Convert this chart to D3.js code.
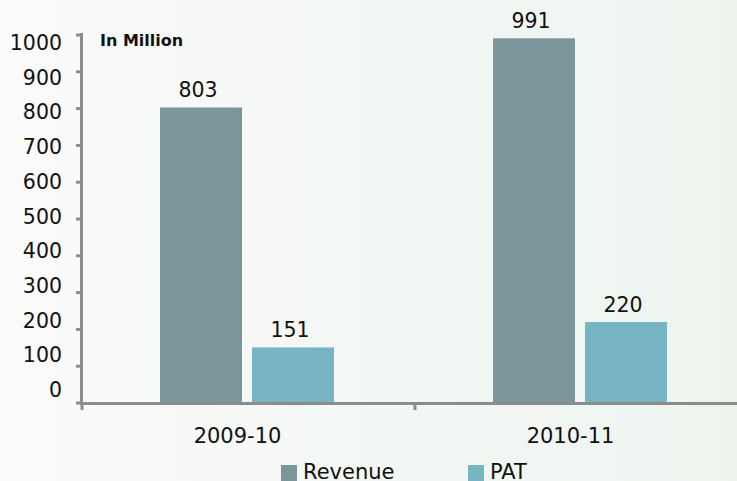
<!DOCTYPE html>
<html lang="en">
<head>
    <meta charset="UTF-8">
    <title>Revenue and PAT</title>
    <script src="https://cdn.jsdelivr.net/npm/d3@7/dist/d3.min.js"></script>
    <style>
        body {
            margin: 0;
        }

        svg {
            display: block;
            font-family: "DejaVu Sans", Verdana, sans-serif;
        }

        .axis-line {
            stroke: #8c8c8c;
            stroke-width: 3px;
        }
    </style>
</head>
<body>
<svg width="737" height="481"></svg>

<script>

    var years = ['2009-10', '2010-11'];
    var series = ['Revenue', 'PAT'];
    var revenue = [803, 991];
    var pat = [151, 220];
    var yTicks = [0, 100, 200, 300, 400, 500, 600, 700, 800, 900, 1000];
    var colors = ['#7b979c', '#77b4c4'];

    var values = [revenue, pat];

    var svg = d3.select('svg');

    // background gradient, white-ish on the left to pale green on the right
    var grad = svg.append('defs').append('linearGradient')
        .attr('id', 'bg')
        .attr('x1', '0%').attr('x2', '100%')
        .attr('y1', '0%').attr('y2', '0%');
    grad.append('stop').attr('offset', '0%').attr('stop-color', '#fafbfa');
    grad.append('stop').attr('offset', '100%').attr('stop-color', '#edf4ee');

    svg.append('rect')
        .attr('width', 737)
        .attr('height', 481)
        .attr('fill', 'url(#bg)');

    var y = d3.scaleLinear().domain([0, 1000]).range([403, 35]);
    // tick labels sit on a slightly tighter spacing than the tick marks
    var yLab = d3.scaleLinear().domain([0, 1000]).range([397, 50]);

    var x0 = d3.scaleBand().domain(years).range([81, 747]);
    var x1 = d3.scaleBand().domain(series).range([79, 253]).paddingInner(10 / 92);

    // y axis ticks and line
    svg.selectAll('.ytick')
        .data(yTicks)
        .enter()
        .append('line')
        .attr('class', 'axis-line')
        .attr('x1', 76)
        .attr('x2', 82)
        .attr('y1', function (d) { return y(d); })
        .attr('y2', function (d) { return y(d); });

    svg.selectAll('.ylabel')
        .data(yTicks)
        .enter()
        .append('text')
        .attr('x', 62)
        .attr('y', function (d) { return yLab(d); })
        .attr('text-anchor', 'end')
        .attr('font-size', 20.5)
        .attr('fill', '#111')
        .text(function (d) { return d; });

    // bars
    var groups = svg.selectAll('.group')
        .data(years)
        .enter()
        .append('g')
        .attr('transform', function (d) { return 'translate(' + x0(d) + ',0)'; });

    groups.selectAll('rect')
        .data(function (d, i) {
            return series.map(function (s, j) {
                return {series: s, value: values[j][i], color: colors[j]};
            });
        })
        .enter()
        .append('rect')
        .attr('x', function (d) { return x1(d.series); })
        .attr('width', x1.bandwidth())
        .attr('y', function (d) { return y(d.value); })
        .attr('height', function (d) { return y(0) - y(d.value); })
        .attr('fill', function (d) { return d.color; });

    groups.selectAll('.val')
        .data(function (d, i) {
            return series.map(function (s, j) {
                return {series: s, value: values[j][i]};
            });
        })
        .enter()
        .append('text')
        .attr('x', function (d) { return x1(d.series) + x1.bandwidth() / 2 - 3; })
        .attr('y', function (d) { return y(d.value) - 10; })
        .attr('text-anchor', 'middle')
        .attr('font-size', 20.5)
        .attr('fill', '#111')
        .text(function (d) { return d.value; });

    // axis lines
    svg.append('line')
        .attr('class', 'axis-line')
        .attr('x1', 81.5).attr('x2', 81.5)
        .attr('y1', 33).attr('y2', 405);

    svg.append('line')
        .attr('class', 'axis-line')
        .attr('x1', 80).attr('x2', 737)
        .attr('y1', 403.5).attr('y2', 403.5);

    svg.selectAll('.xtick')
        .data(years)
        .enter()
        .append('line')
        .attr('class', 'axis-line')
        .attr('x1', function (d) { return x0(d) + 1; })
        .attr('x2', function (d) { return x0(d) + 1; })
        .attr('y1', 403)
        .attr('y2', 410);

    svg.selectAll('.xlabel')
        .data(years)
        .enter()
        .append('text')
        .attr('x', function (d) { return x0(d) + x0.bandwidth() / 2 - 10; })
        .attr('y', 443)
        .attr('text-anchor', 'middle')
        .attr('font-size', 21)
        .attr('fill', '#111')
        .text(function (d) { return d; });

    svg.append('text')
        .attr('x', 100)
        .attr('y', 46)
        .attr('font-size', 16)
        .attr('font-weight', 'bold')
        .attr('fill', '#111')
        .text('In Million');

    // legend
    var legendX = [281, 468];
    var legend = svg.selectAll('.legend')
        .data(series)
        .enter()
        .append('g')
        .attr('transform', function (d, i) { return 'translate(' + legendX[i] + ',465)'; });

    legend.append('rect')
        .attr('width', 16)
        .attr('height', 16)
        .attr('fill', function (d, i) { return colors[i]; });

    legend.append('text')
        .attr('x', 22)
        .attr('y', 14)
        .attr('font-size', 21)
        .attr('fill', '#111')
        .text(function (d) { return d; });

</script>

</body>
</html>
